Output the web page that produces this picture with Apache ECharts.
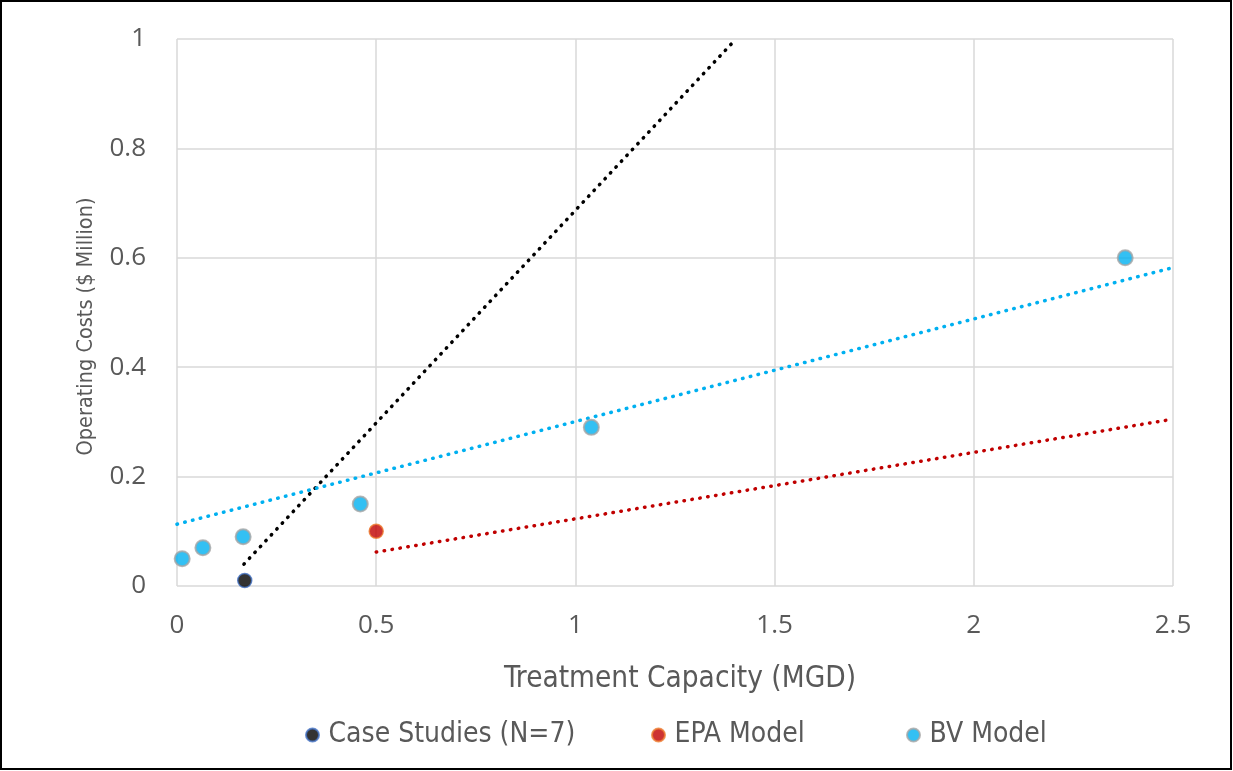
<!DOCTYPE html>
<html><head><meta charset="utf-8">
<script src="https://cdn.jsdelivr.net/npm/echarts@6/dist/echarts.min.js"></script>
<style>html,body{margin:0;padding:0;background:#fff}#c{width:1233px;height:771px}</style>
</head><body><div id="c"></div>
<script>
// Data
const caseStudies = [[0.17, 0.01]];
const epaModel = [[0.5, 0.10]];
const bvModel = [[0.013, 0.05], [0.065, 0.07], [0.166, 0.09], [0.46, 0.15], [1.04, 0.29], [2.38, 0.60]];
// Linear trendlines (endpoints of each fitted line)
const caseTrend = [[0.168, 0.040], [1.403, 1.0]];
const epaTrend = [[0.5, 0.062], [2.5, 0.305]];
const bvTrend = [[0, 0.113], [2.5, 0.582]];
const xTicks = [0, 0.5, 1, 1.5, 2, 2.5];
const yTicks = [0, 0.2, 0.4, 0.6, 0.8, 1];
const legendNames = ['Case Studies (N=7)', 'EPA Model', 'BV Model'];

const NARROW = '"DejaVu Sans Condensed", "Roboto", sans-serif';
const chart = echarts.init(document.getElementById('c'));
const dot = (c) => ({ color: c, width: 3.5, type: [0.5, 7.5], cap: 'round' });
const legendLeft = [300, 646, 901];
chart.setOption({
  animation: false,
  backgroundColor: '#fff',
  graphic: [{ type: 'rect', shape: { x: 1, y: 1, width: 1230, height: 768 }, style: { fill: 'none', stroke: '#000', lineWidth: 2 }, silent: true }],
  grid: { left: 177, right: 60, top: 39, bottom: 185 },
  legend: legendNames.map((n, i) => ({
    bottom: 17, left: legendLeft[i], itemWidth: 22, itemHeight: 13,
    data: [{ name: n, icon: 'circle' }],
    textStyle: { fontFamily: NARROW, fontSize: 28, color: '#595959' }
  })),
  xAxis: {
    type: 'value', min: 0, max: 2.5, interval: 0.5,
    name: 'Treatment Capacity (MGD)', nameLocation: 'middle', nameGap: 78,
    nameTextStyle: { fontFamily: NARROW, fontSize: 29.5, color: '#595959', verticalAlign: 'top', padding: [0, 0, 0, 10] },
    axisLine: { show: false }, axisTick: { show: false },
    axisLabel: { margin: 27, fontFamily: 'Open Sans', fontSize: 26, color: '#595959', formatter: v => xTicks.includes(v) ? String(v) : '' },
    splitLine: { show: true, lineStyle: { color: '#d9d9d9', width: 1.5 } }
  },
  yAxis: {
    type: 'value', min: 0, max: 1, interval: 0.2,
    name: 'Operating Costs ($ Million)', nameLocation: 'middle', nameGap: 80,
    nameTextStyle: { fontFamily: NARROW, fontSize: 21.5, color: '#595959', padding: [0, 28, 0, 0] },
    axisLine: { show: false }, axisTick: { show: false },
    axisLabel: { margin: 31, fontFamily: 'Open Sans', fontSize: 26, color: '#595959', formatter: v => String(+v.toFixed(1)) },
    splitLine: { show: true, lineStyle: { color: '#d9d9d9', width: 1.5 } }
  },
  series: [
    { name: 'caseTrend', type: 'line', data: caseTrend, symbol: 'none', lineStyle: dot('#000'), z: 2, silent: true },
    { name: 'epaTrend', type: 'line', data: epaTrend, symbol: 'none', lineStyle: dot('#c00000'), z: 2, silent: true },
    { name: 'bvTrend', type: 'line', data: bvTrend, symbol: 'none', lineStyle: dot('#00b0f0'), z: 2, silent: true },
    { name: legendNames[0], type: 'scatter', data: caseStudies, symbolSize: 14, z: 3,
      itemStyle: { color: '#000', borderColor: '#4472c4', borderWidth: 1.5 } },
    { name: legendNames[1], type: 'scatter', data: epaModel, symbolSize: 14, z: 3,
      itemStyle: { color: '#c00000', borderColor: '#ed7d31', borderWidth: 1.5 } },
    { name: legendNames[2], type: 'scatter', data: bvModel, symbolSize: 15, z: 3,
      itemStyle: { color: '#00b0f0', borderColor: '#a5a5a5', borderWidth: 2 } }
  ]
});
</script></body></html>
